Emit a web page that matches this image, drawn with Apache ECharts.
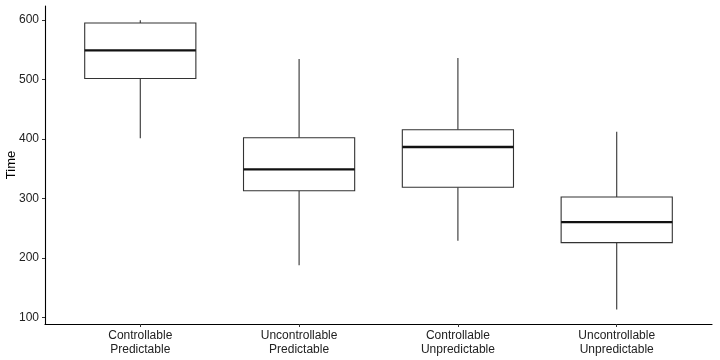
<!DOCTYPE html>
<html>
<head>
<meta charset="utf-8">
<script src="https://cdn.jsdelivr.net/npm/echarts@6/dist/echarts.min.js"></script>
<style>
  html, body { margin: 0; padding: 0; background: #fff; }
  #chart { width: 720px; height: 360px; }
</style>
</head>
<body>
<div id="chart"></div>
<script>
const categories = ['Controllable\nPredictable', 'Uncontrollable\nPredictable', 'Controllable\nUnpredictable', 'Uncontrollable\nUnpredictable'];
const whiskerLow = [401, 188, 229, 114];
const q1 = [501.5, 313, 319, 226];
const median = [548.5, 349, 386.5, 260.5];
const q3 = [594.5, 402, 415.5, 302.5];
const whiskerHigh = [599, 534, 536, 412];
const yTicks = [100, 200, 300, 400, 500, 600];
const yTitle = 'Time';

const boxData = categories.map((c, i) => [i + 1, whiskerLow[i], q1[i], median[i], q3[i], whiskerHigh[i]]);
const halfWidth = 0.35;

function renderItem(params, api) {
  const x = api.value(0);
  const low = api.coord([x, api.value(1)]);
  const boxBL = api.coord([x - halfWidth, api.value(2)]);
  const boxTR = api.coord([x + halfWidth, api.value(4)]);
  const medL = api.coord([x - halfWidth, api.value(3)]);
  const medR = api.coord([x + halfWidth, api.value(3)]);
  const high = api.coord([x, api.value(5)]);
  const stroke = '#333333';
  return {
    type: 'group',
    children: [
      { type: 'line', shape: { x1: low[0], y1: low[1], x2: low[0], y2: boxBL[1] }, style: { stroke: stroke, lineWidth: 1.1 } },
      { type: 'line', shape: { x1: high[0], y1: high[1], x2: high[0], y2: boxTR[1] }, style: { stroke: stroke, lineWidth: 1.1 } },
      { type: 'rect', shape: { x: boxBL[0], y: boxTR[1], width: boxTR[0] - boxBL[0], height: boxBL[1] - boxTR[1] }, style: { fill: '#ffffff', stroke: stroke, lineWidth: 1.1 } },
      { type: 'line', shape: { x1: medL[0], y1: medL[1], x2: medR[0], y2: medR[1] }, style: { stroke: '#111111', lineWidth: 2.3 } }
    ]
  };
}

const chart = echarts.init(document.getElementById('chart'), null, { renderer: 'canvas' });
chart.setOption({
  animation: false,
  backgroundColor: '#ffffff',
  textStyle: { fontFamily: 'Liberation Sans, Arial, sans-serif' },
  grid: { left: 45, right: 8, top: 6, bottom: 36, containLabel: false, outerBoundsMode: 'none' },
  graphic: [{
    type: 'text',
    x: 11,
    y: 165,
    rotation: Math.PI / 2,
    style: {
      text: yTitle,
      fill: '#000',
      font: '13px "Liberation Sans", Arial, sans-serif',
      align: 'center',
      verticalAlign: 'middle'
    }
  }],
  xAxis: {
    type: 'value',
    min: 0.4,
    max: 4.6,
    splitLine: { show: false },
    axisLine: { show: true, onZero: false, lineStyle: { color: '#000', width: 1.1 } },
    axisTick: { show: true, length: 3, customValues: [1, 2, 3, 4], lineStyle: { color: '#333', width: 1 } },
    axisLabel: {
      customValues: [1, 2, 3, 4],
      formatter: v => categories[Math.round(v) - 1] || '',
      color: '#222',
      fontSize: 12,
      lineHeight: 14,
      margin: 5,
      fontFamily: 'Liberation Sans, Arial, sans-serif'
    }
  },
  yAxis: {
    type: 'value',
    min: 89.5,
    max: 623.1,
    splitLine: { show: false },
    axisLine: { show: true, onZero: false, lineStyle: { color: '#000', width: 1.1 } },
    axisTick: { show: true, length: 3, customValues: yTicks, lineStyle: { color: '#333', width: 1 } },
    axisLabel: {
      customValues: yTicks,
      color: '#222',
      fontSize: 12,
      margin: 6,
      fontFamily: 'Liberation Sans, Arial, sans-serif'
    }
  },
  series: [{
    type: 'custom',
    renderItem: renderItem,
    encode: { x: 0, y: [1, 2, 3, 4, 5] },
    data: boxData,
    clip: false
  }]
});
</script>
</body>
</html>
